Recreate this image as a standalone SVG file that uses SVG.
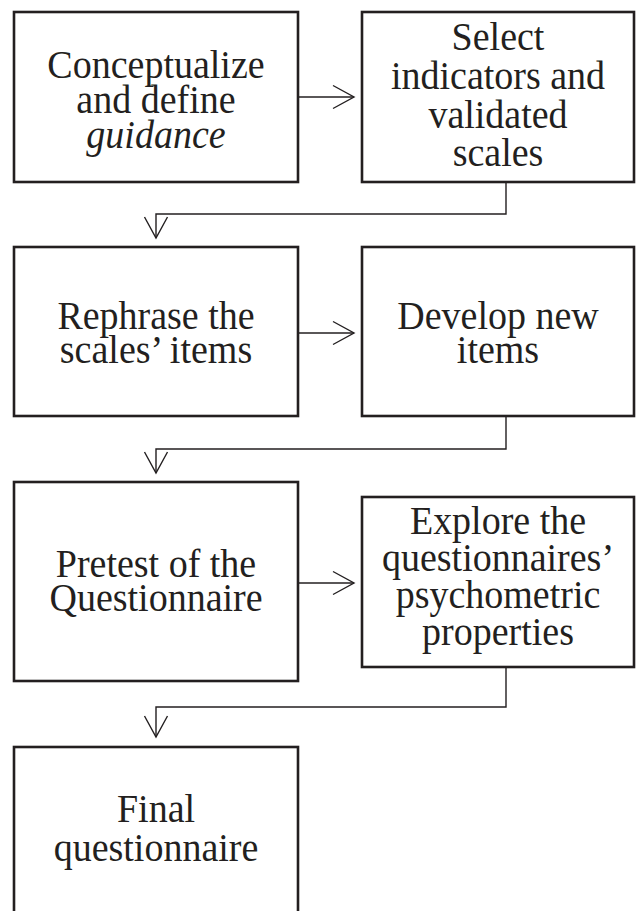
<svg xmlns="http://www.w3.org/2000/svg" width="637" height="911" viewBox="0 0 637 911">
<style>
.box{fill:#fff;stroke:#231f20;stroke-width:2.6}
.t{font-family:"Liberation Serif","Times New Roman",serif;font-size:40px;fill:#231f20;text-anchor:middle}
.c{fill:none;stroke:#231f20;stroke-width:1.4}
</style>
<defs>
<marker id="ah" markerUnits="userSpaceOnUse" markerWidth="30" markerHeight="30" viewBox="-25 -15 30 30" refX="0" refY="0" orient="auto">
<path d="M-21,-11.5 L0,0 L-21,11.5" fill="none" stroke="#231f20" stroke-width="1.4"/>
</marker>
</defs>
<rect width="637" height="911" fill="#fff"/>
<g id="connectors">
<path class="c" d="M298,97 H354" marker-end="url(#ah)"/>
<path class="c" d="M506,182 V214 H156 V238" marker-end="url(#ah)"/>
<path class="c" d="M298,333 H354" marker-end="url(#ah)"/>
<path class="c" d="M506,416 V449 H156 V473" marker-end="url(#ah)"/>
<path class="c" d="M298,583 H354" marker-end="url(#ah)"/>
<path class="c" d="M506,667 V707 H156 V737" marker-end="url(#ah)"/>
</g>
<g id="n1">
<rect class="box" x="14" y="12" width="284" height="170"/>
<g transform="translate(156 0) scale(0.95 1)">
<text class="t" x="0" y="78">Conceptualize</text>
<text class="t" x="0" y="113">and define</text>
<text class="t" x="0" y="148" font-style="italic">guidance</text>
</g>
</g>
<g id="n2">
<rect class="box" x="362" y="12" width="272" height="170"/>
<g transform="translate(498 0) scale(0.95 1)">
<text class="t" x="0" y="50">Select</text>
<text class="t" x="0" y="89">indicators and</text>
<text class="t" x="0" y="128">validated</text>
<text class="t" x="0" y="166">scales</text>
</g>
</g>
<g id="n3">
<rect class="box" x="14" y="247" width="284" height="169"/>
<g transform="translate(156 0) scale(0.95 1)">
<text class="t" x="0" y="329">Rephrase the</text>
<text class="t" x="0" y="363">scales’ items</text>
</g>
</g>
<g id="n4">
<rect class="box" x="362" y="247" width="272" height="169"/>
<g transform="translate(498 0) scale(0.95 1)">
<text class="t" x="0" y="329">Develop new</text>
<text class="t" x="0" y="363">items</text>
</g>
</g>
<g id="n5">
<rect class="box" x="14" y="482" width="284" height="199"/>
<g transform="translate(156 0) scale(0.95 1)">
<text class="t" x="0" y="577">Pretest of the</text>
<text class="t" x="0" y="611">Questionnaire</text>
</g>
</g>
<g id="n6">
<rect class="box" x="362" y="497" width="272" height="170"/>
<g transform="translate(498 0) scale(0.95 1)">
<text class="t" x="0" y="534">Explore the</text>
<text class="t" x="0" y="571">questionnaires’</text>
<text class="t" x="0" y="608">psychometric</text>
<text class="t" x="0" y="645">properties</text>
</g>
</g>
<g id="n7">
<rect class="box" x="14" y="747" width="284" height="180"/>
<g transform="translate(156 0) scale(0.95 1)">
<text class="t" x="0" y="822">Final</text>
<text class="t" x="0" y="861">questionnaire</text>
</g>
</g>
</svg>
